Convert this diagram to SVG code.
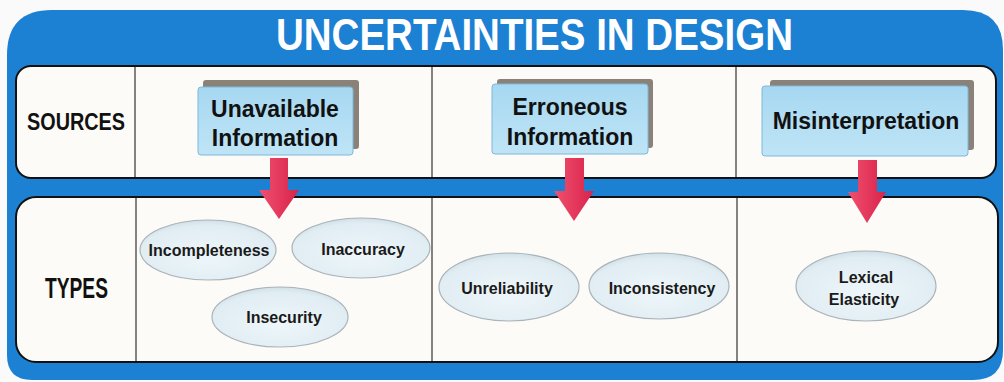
<svg xmlns="http://www.w3.org/2000/svg" width="1004" height="382" viewBox="0 0 1004 382">
  <defs>
    <linearGradient id="boxFill" x1="0" y1="0" x2="0" y2="1">
      <stop offset="0" stop-color="#a6d8f1"/>
      <stop offset="1" stop-color="#bfe4f6"/>
    </linearGradient>
    <radialGradient id="ellFill" cx="0.5" cy="0.6" r="0.6">
      <stop offset="0" stop-color="#eef6fa"/>
      <stop offset="0.85" stop-color="#e0edf3"/>
      <stop offset="1" stop-color="#d2dfe6"/>
    </radialGradient>
    <linearGradient id="arrowFill" x1="0" y1="0" x2="1" y2="0">
      <stop offset="0" stop-color="#f0506f"/>
      <stop offset="1" stop-color="#d8234a"/>
    </linearGradient>
    <style>
      .panel { fill: #fdfbf7; stroke: #111; stroke-width: 2; }
      .divider { stroke: #333; stroke-width: 1.2; }
      .shadow { fill: #8a8278; }
      .box { fill: url(#boxFill); stroke: #7cb8dc; stroke-width: 1; }
      .boxText { font-family: "Liberation Sans", Arial, sans-serif; font-weight: bold; font-size: 23px; fill: #111; text-anchor: middle; }
      .ell { fill: url(#ellFill); stroke: #a9b3b8; stroke-width: 1.2; }
      .ellText { font-family: "Liberation Sans", Arial, sans-serif; font-weight: bold; font-size: 16px; fill: #1a1a1a; text-anchor: middle; }
      .rowLabel { font-family: "Liberation Sans", Arial, sans-serif; font-weight: bold; fill: #111; }
      .title { font-family: "Liberation Sans", Arial, sans-serif; font-weight: bold; font-size: 44px; fill: #ffffff; }
      .arrow { fill: url(#arrowFill); }
    </style>
  </defs>

  <rect x="0" y="0" width="1004" height="382" fill="#fafafa"/>

  <!-- outer blue frame -->
  <path d="M7,55 Q7,10 52,10 L963,10 Q1003,10 1003,50 L1003,350 Q1003,380 973,380 L32,380 Q7,380 7,355 Z" fill="#1c80d3"/>

  <text class="title" x="276" y="50" textLength="517" lengthAdjust="spacingAndGlyphs">UNCERTAINTIES IN DESIGN</text>

  <!-- panels -->
  <rect class="panel" x="16" y="66" width="980" height="112" rx="15" ry="15"/>
  <rect class="panel" x="16" y="197" width="982" height="165" rx="20" ry="20"/>

  <line class="divider" x1="135" y1="67" x2="135" y2="177"/>
  <line class="divider" x1="432" y1="67" x2="432" y2="177"/>
  <line class="divider" x1="736" y1="67" x2="736" y2="177"/>
  <line class="divider" x1="136" y1="198" x2="136" y2="361"/>
  <line class="divider" x1="432" y1="198" x2="432" y2="361"/>
  <line class="divider" x1="737" y1="198" x2="737" y2="361"/>

  <g id="label-sources">
    <text class="rowLabel" x="27" y="130" font-size="23" textLength="98" lengthAdjust="spacingAndGlyphs">SOURCES</text>
  </g>
  <g id="label-types">
    <text class="rowLabel" x="45" y="298" font-size="29" textLength="63" lengthAdjust="spacingAndGlyphs">TYPES</text>
  </g>

  <!-- source boxes -->
  <g id="src-unavailable">
    <rect class="shadow" x="203" y="80" width="156" height="69" rx="3"/>
    <rect class="box" x="198" y="87" width="155" height="68" rx="3"/>
    <text class="boxText" x="275" y="117">Unavailable</text>
    <text class="boxText" x="275" y="146">Information</text>
  </g>
  <g id="src-erroneous">
    <rect class="shadow" x="497" y="79" width="156" height="69" rx="3"/>
    <rect class="box" x="492" y="84" width="156" height="70" rx="3"/>
    <text class="boxText" x="570" y="115">Erroneous</text>
    <text class="boxText" x="570" y="145">Information</text>
  </g>
  <g id="src-misinterpretation">
    <rect class="shadow" x="770" y="80" width="204" height="70" rx="3"/>
    <rect class="box" x="762" y="86" width="206" height="70" rx="3"/>
    <text class="boxText" x="866" y="129">Misinterpretation</text>
  </g>

  <!-- connectors -->
  <g id="connectors">
    <polygon class="arrow" points="270,158 288,158 288,190 299,190 279,219 259,190 270,190"/>
    <polygon class="arrow" points="565,158 584,158 584,191 594,191 574,221 554,191 565,191"/>
    <polygon class="arrow" points="858,160 877,160 877,192 886,192 867,223 848,192 858,192"/>
  </g>

  <!-- type ellipses -->
  <g id="type-incompleteness">
    <ellipse class="ell" cx="208" cy="250" rx="68" ry="30"/>
    <text class="ellText" x="209" y="256" font-size="16.5">Incompleteness</text>
  </g>
  <g id="type-inaccuracy">
    <ellipse class="ell" cx="361" cy="248" rx="69" ry="30"/>
    <text class="ellText" x="363" y="255" font-size="17">Inaccuracy</text>
  </g>
  <g id="type-insecurity">
    <ellipse class="ell" cx="280" cy="317" rx="68" ry="30"/>
    <text class="ellText" x="284" y="323" font-size="16.5">Insecurity</text>
  </g>
  <g id="type-unreliability">
    <ellipse class="ell" cx="509" cy="287" rx="70" ry="34"/>
    <text class="ellText" x="507" y="294">Unreliability</text>
  </g>
  <g id="type-inconsistency">
    <ellipse class="ell" cx="659" cy="286" rx="70" ry="33"/>
    <text class="ellText" x="662" y="294">Inconsistency</text>
  </g>
  <g id="type-lexical-elasticity">
    <ellipse class="ell" cx="866" cy="286" rx="70" ry="35"/>
    <text class="ellText" x="866" y="283">Lexical</text>
    <text class="ellText" x="864" y="305">Elasticity</text>
  </g>
</svg>
